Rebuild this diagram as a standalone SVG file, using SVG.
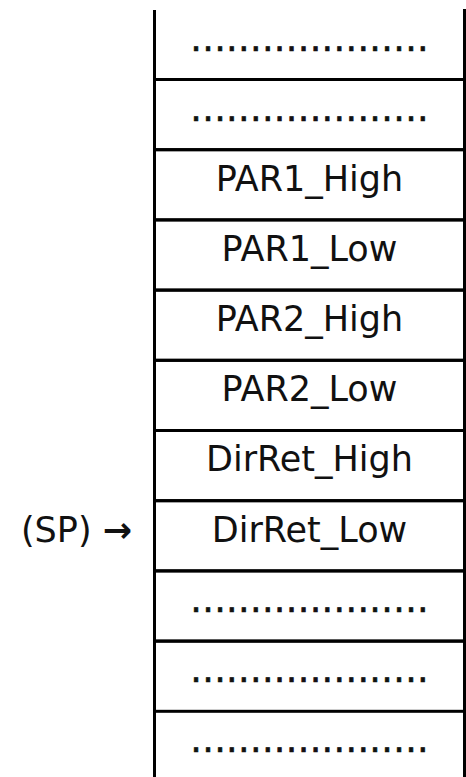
<svg xmlns="http://www.w3.org/2000/svg" width="466" height="777" viewBox="0 0 466 777">
  <style>
    .cell { fill: none; stroke: #000; stroke-width: 3; }
    .lbl { font-family: "DejaVu Sans", Verdana, sans-serif; font-size: 35px; fill: #111; text-anchor: middle; }
    .dots { font-family: "DejaVu Sans", Verdana, sans-serif; font-size: 35px; fill: #111; stroke: #111; stroke-width: 0.7; text-anchor: middle; }
    .arrow { font-weight: bold; }
  </style>
  <rect width="466" height="777" fill="#fff"/>

  <!-- stack cells, top to bottom; first and last are open-ended -->
  <g id="cell-0">
    <path class="cell" d="M154.5,10 V79.5 M464.5,9 V79.5 M154.5,79.5 H464.5"/>
    <text class="dots" x="309.5" y="50.5" textLength="238" lengthAdjust="spacing">....................</text>
  </g>
  <g id="cell-1">
    <rect class="cell" x="154.5" y="79.5" width="310" height="70.2"/>
    <text class="dots" x="309.5" y="120.5" textLength="238" lengthAdjust="spacing">....................</text>
  </g>
  <g id="cell-par1-high">
    <rect class="cell" x="154.5" y="149.7" width="310" height="70.2"/>
    <text class="lbl" x="309.5" y="190.5">PAR1_High</text>
  </g>
  <g id="cell-par1-low">
    <rect class="cell" x="154.5" y="219.9" width="310" height="70.2"/>
    <text class="lbl" x="309.5" y="260.7">PAR1_Low</text>
  </g>
  <g id="cell-par2-high">
    <rect class="cell" x="154.5" y="290.1" width="310" height="70.2"/>
    <text class="lbl" x="309.5" y="330.9">PAR2_High</text>
  </g>
  <g id="cell-par2-low">
    <rect class="cell" x="154.5" y="360.3" width="310" height="70.2"/>
    <text class="lbl" x="309.5" y="401.1">PAR2_Low</text>
  </g>
  <g id="cell-dirret-high">
    <rect class="cell" x="154.5" y="430.5" width="310" height="70.2"/>
    <text class="lbl" x="309.5" y="471.3">DirRet_High</text>
  </g>
  <g id="cell-dirret-low">
    <rect class="cell" x="154.5" y="500.7" width="310" height="70.2"/>
    <text class="lbl" x="309.5" y="541.5">DirRet_Low</text>
  </g>
  <g id="cell-8">
    <rect class="cell" x="154.5" y="570.9" width="310" height="70.2"/>
    <text class="dots" x="309.5" y="611.7" textLength="238" lengthAdjust="spacing">....................</text>
  </g>
  <g id="cell-9">
    <rect class="cell" x="154.5" y="641.1" width="310" height="70.2"/>
    <text class="dots" x="309.5" y="681.9" textLength="238" lengthAdjust="spacing">....................</text>
  </g>
  <g id="cell-10">
    <path class="cell" d="M154.5,711.3 V777 M464.5,711.3 V777"/>
    <text class="dots" x="309.5" y="752.1" textLength="238" lengthAdjust="spacing">....................</text>
  </g>

  <!-- stack pointer marker -->
  <g id="sp-pointer">
    <text class="lbl" x="76.5" y="541.5">(SP) <tspan class="arrow">→</tspan></text>
  </g>
</svg>
